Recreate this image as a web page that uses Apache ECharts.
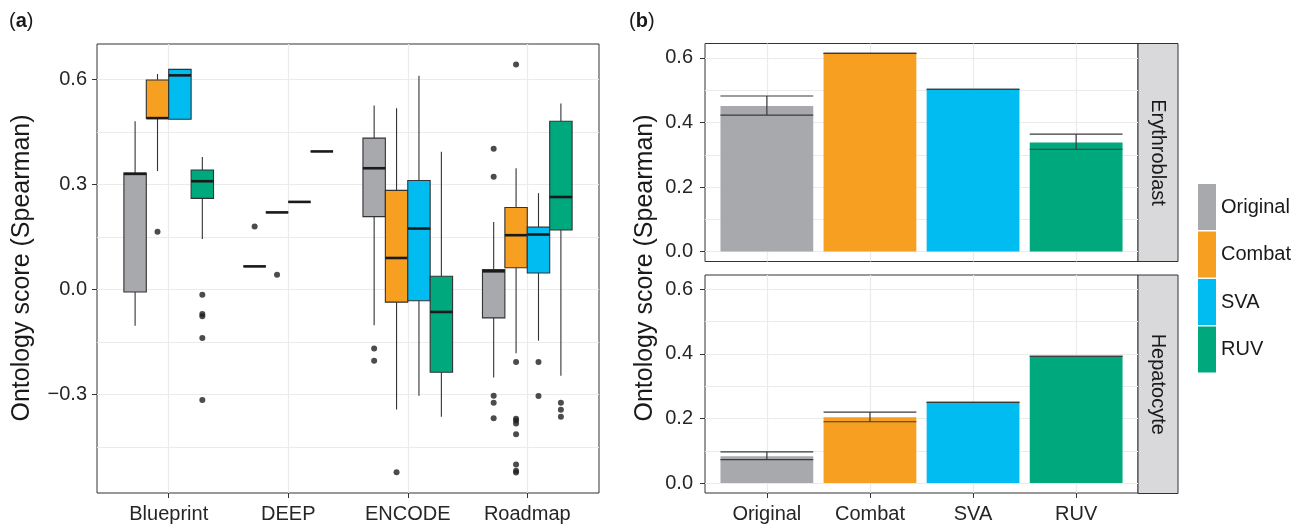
<!DOCTYPE html>
<html>
<head>
<meta charset="utf-8">
<title>Ontology score by batch correction method</title>
<script src="https://cdn.jsdelivr.net/npm/echarts@6/dist/echarts.min.js"></script>
<style>
  html, body { margin: 0; background: #fff; }
  #chart { width: 1300px; height: 524px; }
</style>
</head>
<body>
<div id="chart"></div>
<script>
const methods = ['Original', 'Combat', 'SVA', 'RUV']
const colors = ['#a7a9ac', '#f69f20', '#00bcf1', '#00a87e']
const datasets = ['Blueprint', 'DEEP', 'ENCODE', 'Roadmap']
const cellTypes = ['Erythroblast', 'Hepatocyte']

// (a) box statistics, one row per dataset: [min, q1, median, q3, max]
const boxOriginal = [
  [-0.103, -0.007, 0.330, 0.332, 0.480],
  [0.066, 0.066, 0.066, 0.066, 0.066],
  [-0.102, 0.208, 0.346, 0.432, 0.525],
  [-0.251, -0.081, 0.052, 0.057, 0.193],
]
const boxCombat = [
  [0.338, 0.489, 0.489, 0.598, 0.615],
  [0.220, 0.220, 0.220, 0.220, 0.220],
  [-0.342, -0.036, 0.090, 0.283, 0.517],
  [-0.182, 0.062, 0.155, 0.234, 0.346],
]
const boxSVA = [
  [0.486, 0.486, 0.611, 0.628, 0.628],
  [0.250, 0.250, 0.250, 0.250, 0.250],
  [-0.303, -0.032, 0.174, 0.311, 0.610],
  [-0.146, 0.047, 0.157, 0.178, 0.275],
]
const boxRUV = [
  [0.144, 0.260, 0.309, 0.341, 0.378],
  [0.394, 0.394, 0.394, 0.394, 0.394],
  [-0.363, -0.236, -0.064, 0.038, 0.393],
  [-0.246, 0.170, 0.264, 0.480, 0.531],
]

// (a) outliers, one list per dataset
const outOriginal = [[], [0.180], [-0.168, -0.203], [0.402, 0.322, -0.303, -0.323, -0.367]]
const outCombat = [[0.165], [0.042], [-0.521], [0.642, -0.207, -0.369, -0.374, -0.382, -0.413, -0.499, -0.517, -0.522]]
const outSVA = [[], [], [], [-0.207, -0.304]]
const outRUV = [[-0.015, -0.070, -0.076, -0.138, -0.315], [], [], [-0.323, -0.343, -0.363]]

// (b) mean score with error bar limits, per method
const eryMean = [0.451, 0.614, 0.503, 0.338]
const eryLow = [0.423, 0.614, 0.503, 0.317]
const eryHigh = [0.482, 0.614, 0.503, 0.364]
const hepMean = [0.083, 0.204, 0.250, 0.393]
const hepLow = [0.073, 0.190, 0.250, 0.393]
const hepHigh = [0.097, 0.220, 0.250, 0.393]

const boxStats = [boxOriginal, boxCombat, boxSVA, boxRUV]
const outliers = [outOriginal, outCombat, outSVA, outRUV]

const font = "'Liberation Sans', Arial, Helvetica, sans-serif"
const textColor = '#262626'
const gridLine = '#ebebeb'
const frame = '#333'
const slot = 0.1875 // dodge width 0.75 split over four methods
const yTitle = 'Ontology score (Spearman)'

function xAxisFor(gridIndex, labels, showTicks) {
  return {
    type: 'value', gridIndex, min: -0.6, max: 3.6,
    axisLine: { show: false, onZero: false },
    axisTick: { show: showTicks, customValues: [0, 1, 2, 3], length: 5, lineStyle: { color: frame } },
    axisLabel: {
      show: showTicks, customValues: [0, 1, 2, 3], margin: 11,
      color: textColor, fontSize: 20, fontFamily: font,
      formatter: (v) => labels[Math.round(v)],
    },
    splitLine: { show: true, lineStyle: { color: gridLine, width: 1.2 } },
  }
}

function yAxisPair(gridIndex, min, max, majors, minors, margin) {
  return [{
    type: 'value', gridIndex, min, max,
    axisLine: { show: false, onZero: false },
    axisTick: { show: true, customValues: majors, length: 5, lineStyle: { color: frame } },
    axisLabel: {
      customValues: majors, margin, color: textColor, fontSize: 20, fontFamily: font,
      formatter: (v) => (v < 0 ? '\u2212' : '') + Math.abs(v).toFixed(1),
    },
    splitLine: { show: true, lineStyle: { color: gridLine, width: 1.2 } },
  }, {
    type: 'value', gridIndex, min, max,
    axisLine: { show: false, onZero: false },
    axisTick: { show: false, customValues: minors },
    axisLabel: { show: false },
    splitLine: { show: true, lineStyle: { color: gridLine, width: 1 } },
  }]
}

function boxRenderer(mi) {
  return function (params, api) {
    const cx = api.value(0) + (mi - 1.5) * slot
    const half = slot / 2
    const q1 = api.coord([cx - half, api.value(2)])
    const q3 = api.coord([cx + half, api.value(4)])
    const lo = api.coord([cx, api.value(1)])
    const hi = api.coord([cx, api.value(5)])
    const mL = api.coord([cx - half, api.value(3)])
    const mR = api.coord([cx + half, api.value(3)])
    const whisker = { stroke: '#333', lineWidth: 1.1 }
    return {
      type: 'group',
      children: [
        { type: 'line', shape: { x1: hi[0], y1: hi[1], x2: hi[0], y2: q3[1] }, style: whisker },
        { type: 'line', shape: { x1: lo[0], y1: q1[1], x2: lo[0], y2: lo[1] }, style: whisker },
        {
          type: 'rect',
          shape: { x: q1[0], y: q3[1], width: q3[0] - q1[0], height: q1[1] - q3[1] },
          style: { fill: colors[mi], stroke: '#333', lineWidth: 1.1 },
        },
        { type: 'line', shape: { x1: mL[0], y1: mL[1], x2: mR[0], y2: mR[1] }, style: { stroke: '#1a1a1a', lineWidth: 2.6 } },
      ],
    }
  }
}

function barRenderer(params, api) {
  const i = api.value(0)
  const top = api.coord([i - 0.45, api.value(1)])
  const base = api.coord([i + 0.45, 0])
  const low = api.coord([i - 0.45, api.value(2)])
  const high = api.coord([i + 0.45, api.value(3)])
  const mid = api.coord([i, 0])
  const err = { stroke: '#3a3a3a', lineWidth: 1.2 }
  return {
    type: 'group',
    children: [
      {
        type: 'rect',
        shape: { x: top[0], y: top[1], width: base[0] - top[0], height: base[1] - top[1] },
        style: { fill: colors[i] },
      },
      { type: 'line', shape: { x1: low[0], y1: high[1], x2: high[0], y2: high[1] }, style: err },
      { type: 'line', shape: { x1: low[0], y1: low[1], x2: high[0], y2: low[1] }, style: err },
      { type: 'line', shape: { x1: mid[0], y1: high[1], x2: mid[0], y2: low[1] }, style: err },
    ],
  }
}

const series = []
methods.forEach((name, mi) => {
  series.push({
    name, type: 'custom', xAxisIndex: 0, yAxisIndex: 0,
    itemStyle: { color: colors[mi] },
    renderItem: boxRenderer(mi),
    encode: { x: 0, y: [1, 2, 3, 4, 5] },
    data: boxStats[mi].map((s, di) => [di].concat(s)),
  })
})
methods.forEach((name, mi) => {
  const pts = []
  outliers[mi].forEach((list, di) => list.forEach((v) => pts.push([di + (mi - 1.5) * slot, v])))
  series.push({
    name, type: 'scatter', xAxisIndex: 0, yAxisIndex: 0,
    symbol: 'circle', symbolSize: 6,
    itemStyle: { color: '#1f1f1f' },
    z: 3,
    data: pts,
  })
})
const facets = [[eryMean, eryLow, eryHigh], [hepMean, hepLow, hepHigh]]
facets.forEach(([mean, low, high], fi) => {
  series.push({
    name: cellTypes[fi], type: 'custom',
    xAxisIndex: fi + 1, yAxisIndex: 2 + fi * 2,
    renderItem: barRenderer,
    encode: { x: 0, y: [1, 2, 3] },
    data: methods.map((m, i) => [i, mean[i], low[i], high[i]]),
  })
})

const stripBox = (y, h, label) => [
  { type: 'rect', shape: { x: 1138, y, width: 40, height: h }, style: { fill: '#d9d9db', stroke: frame, lineWidth: 1 } },
  {
    type: 'text', x: 1158, y: y + h / 2, rotation: -Math.PI / 2,
    style: { text: label, fill: '#1a1a1a', font: `20px ${font}`, align: 'center', verticalAlign: 'middle' },
  },
]

const panelTag = (text, left) => ({
  text, left, top: 6,
  textStyle: { fontSize: 20, fontWeight: 'normal', color: '#1a1a1a', rich: { a: { fontSize: 20, fontWeight: 'bold', color: '#1a1a1a' } } },
})

const chart = echarts.init(document.getElementById('chart'))
chart.setOption({
  animation: false,
  backgroundColor: '#fff',
  textStyle: { fontFamily: font },
  title: [panelTag('({a|a})', 4), panelTag('({a|b})', 624)],
  legend: {
    orient: 'vertical', left: 1198, top: 184, padding: 0,
    icon: 'rect', itemWidth: 18, itemHeight: 46, itemGap: 1.5,
    textStyle: { fontSize: 20, color: '#1a1a1a', fontFamily: font },
    selectedMode: false,
    data: methods.map((name, i) => ({ name, itemStyle: { color: colors[i] } })),
  },
  grid: [
    { left: 97, top: 44, width: 502, height: 449, show: true, borderColor: frame, borderWidth: 1, backgroundColor: 'transparent' },
    { left: 705, top: 43.5, width: 433, height: 218, show: true, borderColor: frame, borderWidth: 1, backgroundColor: 'transparent' },
    { left: 705, top: 275, width: 433, height: 218.5, show: true, borderColor: frame, borderWidth: 1, backgroundColor: 'transparent' },
  ],
  xAxis: [
    xAxisFor(0, datasets, true),
    xAxisFor(1, methods, false),
    xAxisFor(2, methods, true),
  ],
  yAxis: [
    ...yAxisPair(0, -0.5805, 0.7005, [-0.3, 0, 0.3, 0.6], [-0.45, -0.15, 0.15, 0.45], 10),
    ...yAxisPair(1, -0.0307, 0.6447, [0, 0.2, 0.4, 0.6], [0.1, 0.3, 0.5], 12),
    ...yAxisPair(2, -0.0307, 0.6447, [0, 0.2, 0.4, 0.6], [0.1, 0.3, 0.5], 12),
  ],
  graphic: [
    { type: 'text', x: 22, y: 268, rotation: Math.PI / 2, style: { text: yTitle, fill: '#1a1a1a', font: `25px ${font}`, align: 'center', verticalAlign: 'middle' } },
    { type: 'text', x: 645, y: 268, rotation: Math.PI / 2, style: { text: yTitle, fill: '#1a1a1a', font: `25px ${font}`, align: 'center', verticalAlign: 'middle' } },
    ...stripBox(43.5, 218, cellTypes[0]),
    ...stripBox(275, 218.5, cellTypes[1]),
  ],
  series,
})
</script>
</body>
</html>
